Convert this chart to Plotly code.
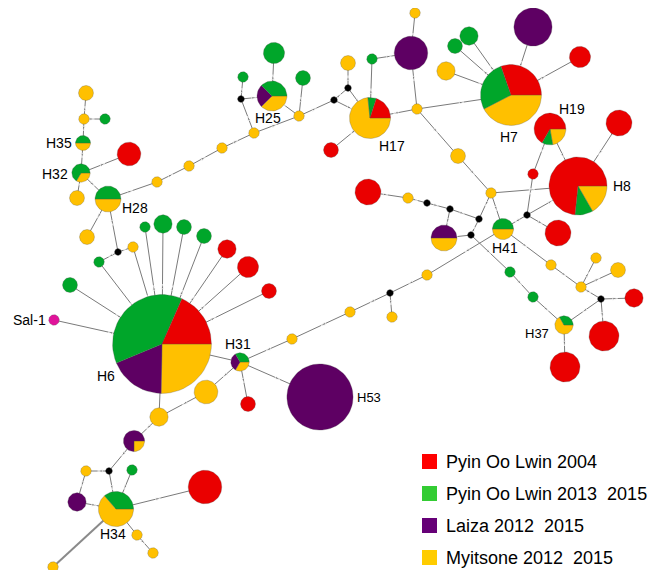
import numpy as np
import plotly.graph_objects as go

# populations (slice order: clockwise from 3 o'clock)
pop_names = ["Myitsone 2012 \u00a02015", "Laiza 2012 \u00a02015",
             "Pyin Oo Lwin 2013 \u00a02015", "Pyin Oo Lwin 2004"]
pie_colors = ["#FFC000", "#5E0063", "#00A62A", "#EA0000"]
legend_colors = ["#FFCC00", "#660077", "#33CC33", "#FF0000"]

# haplotype nodes: layout position, sample counts per population
hap_x = [162, 54, 70, 99, 133, 118, 145, 163, 184, 204, 227, 248, 269, 108, 87, 81, 77, 129,
         83, 84, 105, 86, 157, 189, 222, 254, 241, 243, 272, 274, 299, 303, 334, 348, 348, 370,
         331, 372, 411, 415, 417, 511, 533, 469, 455, 446, 580, 458, 491, 550, 619, 578, 533,
         527, 558, 503, 368, 408, 427, 450, 479, 471, 444, 510, 533, 564, 565, 601, 634, 604,
         581, 551, 596, 618, 427, 390, 392, 350, 292, 240, 320, 248, 206, 159, 134, 109, 86,
         132, 77, 116, 205, 137, 153, 53]
hap_y = [344, 320, 285, 262, 247, 252, 227, 224, 227, 236, 249, 267, 291, 199, 237, 173, 198, 154,
         143, 119, 119, 93, 182, 166, 148, 133, 99, 77, 96, 53, 116, 78, 100, 88, 63, 118,
         150, 59, 53, 13, 109, 95, 27, 36, 46, 71, 57, 156, 193, 129, 123, 186, 174,
         215, 233, 229, 192, 198, 203, 209, 219, 235, 238, 272, 297, 325, 367, 299, 298, 336,
         287, 265, 258, 270, 275, 293, 317, 312, 339, 362, 397, 404, 392, 417, 441, 471, 471,
         470, 502, 509, 487, 535, 553, 567]
# kind: h = sampled haplotype, mv = median vector, out = outgroup
hap_kind = ["h", "out", "h", "h", "h", "mv", "h", "h", "h", "h", "h", "h", "h", "h", "h", "h", "h", "h",
            "h", "h", "h", "h", "h", "h", "h", "h", "mv", "h", "h", "h", "h", "h", "mv", "mv", "h", "h",
            "h", "h", "h", "h", "h", "h", "h", "h", "h", "h", "h", "h", "h", "h", "h", "h", "h",
            "mv", "h", "h", "h", "h", "mv", "mv", "mv", "mv", "h", "h", "h", "h", "h", "mv", "h", "h",
            "h", "h", "h", "h", "h", "mv", "h", "h", "h", "h", "h", "h", "h", "h", "h", "mv", "h",
            "h", "h", "h", "h", "h", "h", "h"]
n_myitsone = [22, 0, 0, 0, 1, 0, 0, 0, 0, 0, 0, 0, 0, 3, 2, 1, 2, 0,
              1, 1, 0, 2, 1, 1, 1, 1, 0, 0, 3, 0, 1, 0, 0, 0, 2, 11,
              0, 0, 0, 1, 1, 14, 0, 0, 0, 3, 0, 2, 1, 2, 0, 5, 0,
              0, 0, 2, 0, 1, 0, 0, 0, 0, 3, 0, 0, 2, 0, 0, 0, 0,
              1, 1, 1, 2, 1, 0, 1, 1, 1, 1, 0, 0, 5, 3, 1, 0, 1,
              0, 0, 7, 0, 1, 1, 1]
n_laiza = [16, 0, 0, 0, 0, 0, 0, 0, 0, 0, 0, 0, 0, 0, 0, 0, 0, 0,
           0, 0, 0, 0, 0, 0, 0, 0, 0, 0, 2, 0, 0, 0, 0, 0, 0, 0,
           0, 0, 10, 0, 0, 0, 13, 0, 0, 0, 0, 0, 0, 0, 0, 0, 0,
           0, 0, 0, 0, 0, 0, 0, 0, 0, 3, 0, 0, 0, 0, 0, 0, 0,
           0, 0, 0, 0, 0, 0, 0, 0, 0, 1, 39, 0, 0, 0, 3, 0, 0,
           0, 3, 0, 0, 0, 0, 0]
n_pol_new = [33, 0, 2, 1, 0, 0, 1, 3, 2, 2, 0, 0, 0, 3, 0, 2, 0, 0,
             1, 0, 1, 0, 0, 0, 0, 0, 0, 1, 3, 4, 0, 2, 0, 0, 0, 1,
             0, 1, 0, 0, 0, 9, 0, 3, 2, 0, 0, 0, 0, 1, 0, 3, 0,
             0, 0, 2, 0, 0, 0, 0, 0, 0, 0, 1, 1, 1, 0, 0, 0, 0,
             0, 0, 0, 0, 0, 0, 0, 0, 0, 1, 0, 0, 0, 0, 0, 0, 0,
             1, 0, 4, 0, 0, 0, 0]
n_pol_2004 = [16, 0, 0, 0, 0, 0, 0, 0, 0, 0, 3, 4, 2, 0, 0, 0, 0, 5,
              0, 0, 0, 0, 0, 0, 0, 0, 0, 0, 0, 0, 0, 0, 0, 0, 0, 3,
              2, 0, 0, 0, 0, 10, 0, 0, 0, 0, 4, 0, 0, 6, 6, 22, 1,
              0, 6, 0, 6, 0, 0, 0, 0, 0, 0, 0, 0, 0, 8, 0, 3, 8,
              0, 0, 0, 0, 0, 0, 0, 0, 0, 0, 0, 2, 0, 0, 0, 0, 0,
              0, 0, 0, 10, 0, 0, 0]

# network links between nodes
links = [(19, 21), (19, 20), (19, 18), (18, 15), (15, 17), (15, 16), (15, 13), (13, 14), (13, 5),
         (5, 4), (5, 3), (13, 22), (22, 23), (23, 24), (24, 25), (25, 30), (25, 26), (26, 27),
         (26, 28), (28, 29), (28, 30), (30, 31), (30, 32), (32, 33), (32, 35), (33, 34), (33, 35),
         (35, 36), (35, 37), (37, 38), (38, 39), (38, 40), (40, 35), (40, 41), (41, 42), (41, 43),
         (41, 44), (41, 45), (41, 46), (40, 47), (47, 48), (48, 51), (48, 60), (48, 55), (49, 51),
         (49, 52), (52, 53), (53, 51), (53, 54), (53, 55), (50, 51), (56, 57), (57, 58), (58, 59),
         (59, 60), (59, 62), (62, 61), (61, 60), (61, 63), (63, 64), (64, 65), (55, 71), (71, 70),
         (70, 72), (70, 73), (70, 67), (67, 68), (67, 69), (67, 65), (65, 66), (55, 74), (74, 75),
         (75, 76), (75, 77), (77, 78), (78, 79), (79, 80), (79, 81), (79, 82), (82, 83), (83, 0),
         (0, 79), (83, 84), (84, 85), (85, 86), (85, 89), (86, 88), (88, 89), (87, 89), (89, 90),
         (89, 91), (91, 92), (0, 1), (0, 2), (0, 3), (0, 4), (0, 6), (0, 7), (0, 8), (0, 9),
         (0, 10), (0, 11), (0, 12)]
long_links = [(89, 93)]

hap_labels = ["H6", "H28", "H32", "H35", "H25", "H17", "H7", "H19", "H8", "H41", "H37",
              "H53", "H31", "H34", "Sal-1"]
label_xy = [(106, 376), (135, 208), (55, 174), (59, 143), (268, 118), (392, 146), (509, 137),
            (572, 109), (622, 186), (505, 248), (537, 333), (369, 397), (238, 344), (113, 534),
            (29, 320)]

R_UNIT = 5.3
PAGE_PAD = 8  # browser body margin; axes are offset so data units equal page pixels


def circle_pts(cx, cy, r, a0, a1, wedge):
    t = np.linspace(a0, a1, max(8, int(abs(a1 - a0) / (2 * np.pi) * 72)))
    xs = list(cx + r * np.cos(t))
    ys = list(cy + r * np.sin(t))
    if wedge:
        xs = [cx] + xs + [cx]
        ys = [cy] + ys + [cy]
    return xs + [None], ys + [None]


fig = go.Figure()

# links
ex, ey, ms = [], [], []
for a, b in links:
    mx, my = (hap_x[a] + hap_x[b]) / 2, (hap_y[a] + hap_y[b]) / 2
    ex += [hap_x[a], mx, hap_x[b], None]
    ey += [hap_y[a], my, hap_y[b], None]
    ms += [0, 5, 0, 0]
fig.add_trace(go.Scatter(x=ex, y=ey, mode="lines+markers",
                         line=dict(color="#7a7a7a", width=1),
                         marker=dict(size=ms, symbol="arrow", angleref="previous", color="#7a7a7a"),
                         hoverinfo="skip", showlegend=False))
lx, ly = [], []
for a, b in long_links:
    lx += [hap_x[a], hap_x[b], None]
    ly += [hap_y[a], hap_y[b], None]
fig.add_trace(go.Scatter(x=lx, y=ly, mode="lines", line=dict(color="#8a8a8a", width=2),
                         hoverinfo="skip", showlegend=False))

# pie nodes
counts = list(zip(n_myitsone, n_laiza, n_pol_new, n_pol_2004))
slice_x = [[] for _ in pie_colors]
slice_y = [[] for _ in pie_colors]
mv_x, mv_y, out_x, out_y = [], [], [], []
for i, kind in enumerate(hap_kind):
    cx, cy = hap_x[i], hap_y[i]
    if kind == "mv":
        px, py = circle_pts(cx, cy, 3.3, 0, 2 * np.pi, False)
        mv_x += px
        mv_y += py
        continue
    if kind == "out":
        px, py = circle_pts(cx, cy, R_UNIT, 0, 2 * np.pi, False)
        out_x += px
        out_y += py
        continue
    c = counts[i]
    total = sum(c)
    r = R_UNIT * np.sqrt(total)
    a0 = 0.0
    for k, n in enumerate(c):
        if n == 0:
            continue
        a1 = a0 + 2 * np.pi * n / total
        px, py = circle_pts(cx, cy, r, a0, a1, n != total)
        slice_x[k] += px
        slice_y[k] += py
        a0 = a1

for k, col in enumerate(pie_colors):
    fig.add_trace(go.Scatter(x=slice_x[k], y=slice_y[k], mode="lines", fill="toself",
                             fillcolor=col, line=dict(color="rgba(80,80,80,0.45)", width=0.6),
                             hoverinfo="skip", showlegend=False))
fig.add_trace(go.Scatter(x=mv_x, y=mv_y, mode="lines", fill="toself", fillcolor="black",
                         line=dict(color="black", width=0.5), hoverinfo="skip", showlegend=False))
fig.add_trace(go.Scatter(x=out_x, y=out_y, mode="lines", fill="toself", fillcolor="#E0139A",
                         line=dict(color="rgba(80,80,80,0.45)", width=0.6),
                         hoverinfo="skip", showlegend=False))

# haplotype labels
for name, (tx, ty) in zip(hap_labels, label_xy):
    small = name in ("H37", "H53")
    fig.add_annotation(x=tx, y=ty, text=name, showarrow=False,
                       font=dict(family="Arial, Liberation Sans", size=13 if small else 14,
                                 color="black"))

# legend
legend_order = [3, 2, 1, 0]
for row, k in enumerate(legend_order):
    y0 = 454 + row * 32
    fig.add_shape(type="rect", x0=422, x1=437, y0=y0, y1=y0 + 15,
                  fillcolor=legend_colors[k], line=dict(width=0))
    fig.add_annotation(x=444, y=y0 + 8, text=pop_names[k], showarrow=False, xanchor="left",
                       font=dict(family="Arial, Liberation Sans", size=18, color="black"))

fig.update_layout(width=659 - PAGE_PAD, height=570 - PAGE_PAD,
                  margin=dict(l=0, r=0, t=0, b=0),
                  plot_bgcolor="white", paper_bgcolor="white", showlegend=False,
                  xaxis=dict(range=[PAGE_PAD, 659], visible=False, fixedrange=True),
                  yaxis=dict(range=[570, PAGE_PAD], visible=False, fixedrange=True))

fig.write_html("out.html")
